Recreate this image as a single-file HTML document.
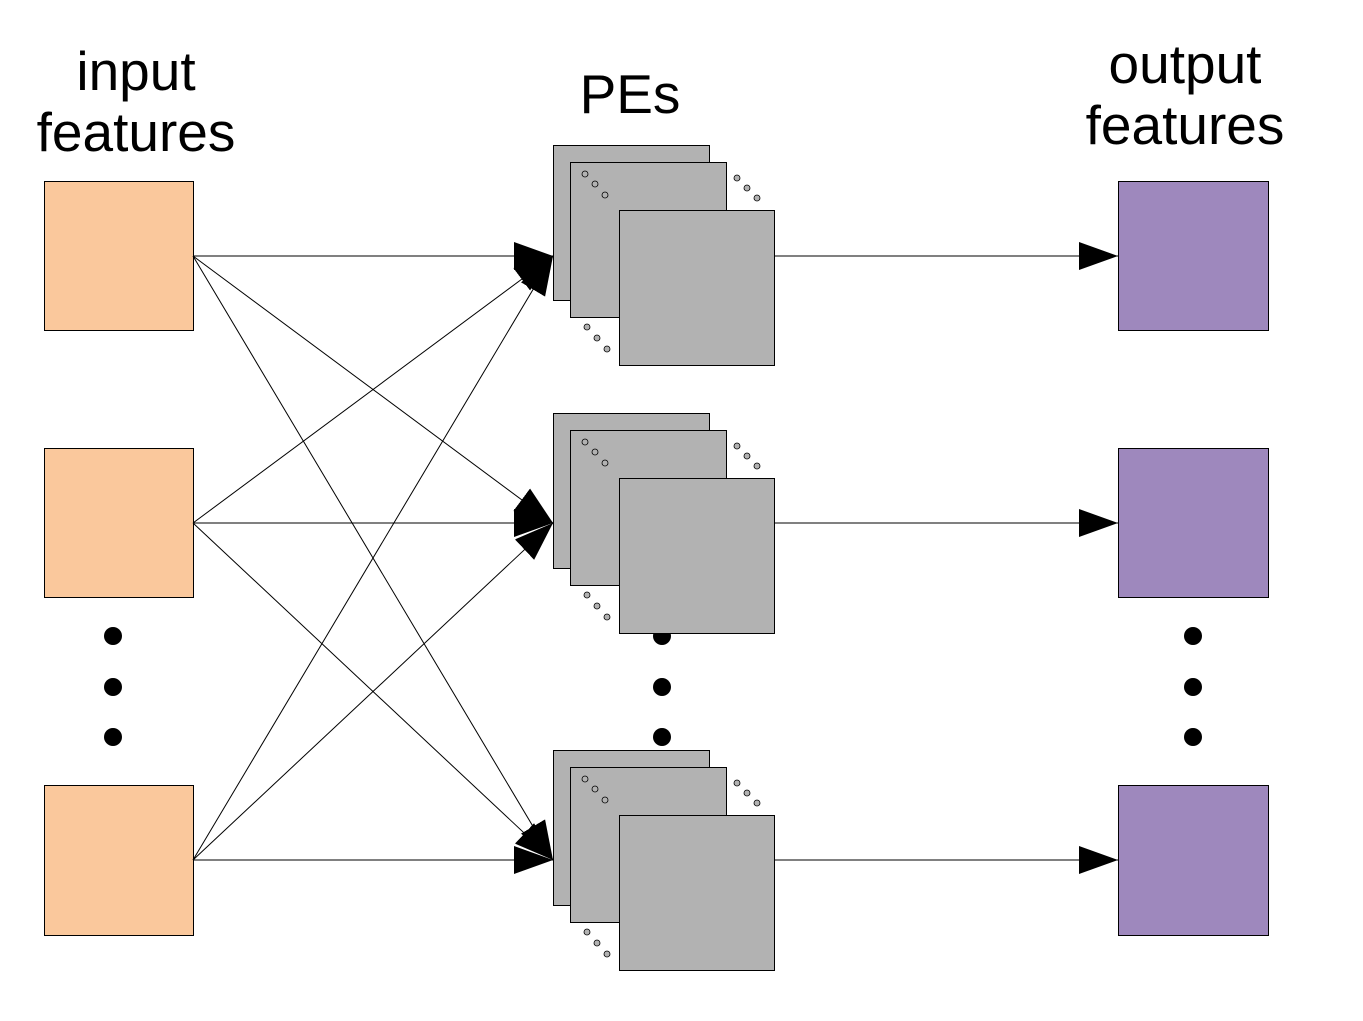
<!DOCTYPE html>
<html><head><meta charset="utf-8"><style>
html,body{margin:0;padding:0;background:#fff;}
svg{display:block;}
text{font-family:"Liberation Sans",sans-serif;font-size:55px;fill:#000;}
</style></head><body>
<svg width="1363" height="1021" viewBox="0 0 1363 1021" xmlns="http://www.w3.org/2000/svg">
<defs>
<marker id="ah" markerUnits="userSpaceOnUse" markerWidth="40" markerHeight="30" refX="39" refY="14" orient="auto">
<polygon points="0,0 39,14 0,28" fill="#000"/>
</marker>
<g id="pe">
<rect x="553.5" y="145.5" width="156" height="155" fill="#b2b2b2" stroke="#000" stroke-width="1"/>
<rect x="570.5" y="162.5" width="156" height="155" fill="#b2b2b2" stroke="#000" stroke-width="1"/>
<g fill="#b2b2b2" stroke="#000" stroke-width="0.8">
<circle cx="585" cy="174" r="3"/><circle cx="595" cy="184" r="3"/><circle cx="605" cy="195" r="3"/>
<circle cx="737" cy="178" r="3"/><circle cx="747" cy="188" r="3"/><circle cx="757" cy="198" r="3"/>
<circle cx="587" cy="327" r="3"/><circle cx="597" cy="338" r="3"/><circle cx="607" cy="349" r="3"/>
</g>
<rect x="619.5" y="210.5" width="155" height="155" fill="#b2b2b2" stroke="#000" stroke-width="1"/>
</g>
</defs>

<text x="136" y="90" text-anchor="middle">input</text>
<text x="136" y="151" text-anchor="middle">features</text>
<text x="630" y="113" text-anchor="middle">PEs</text>
<text x="1185" y="83" text-anchor="middle">output</text>
<text x="1185" y="144" text-anchor="middle">features</text>

<g fill="#fac89c" stroke="#000" stroke-width="1">
<rect x="44.5" y="181.5" width="149" height="149"/>
<rect x="44.5" y="448.5" width="149" height="149"/>
<rect x="44.5" y="785.5" width="149" height="150"/>
</g>
<g fill="#9e88bd" stroke="#000" stroke-width="1">
<rect x="1118.5" y="181.5" width="150" height="149"/>
<rect x="1118.5" y="448.5" width="150" height="149"/>
<rect x="1118.5" y="785.5" width="150" height="150"/>
</g>

<g fill="#000">
<circle cx="113" cy="636" r="9"/><circle cx="113" cy="687" r="9"/><circle cx="113" cy="737" r="9"/>
<circle cx="662" cy="636" r="9"/><circle cx="662" cy="687" r="9"/><circle cx="662" cy="737" r="9"/>
<circle cx="1193" cy="636" r="9"/><circle cx="1193" cy="687" r="9"/><circle cx="1193" cy="737" r="9"/>
</g>

<use href="#pe"/>
<use href="#pe" y="268"/>
<use href="#pe" y="605"/>

<g stroke="#000" stroke-width="1" marker-end="url(#ah)" fill="none">
<line x1="193" y1="256" x2="553" y2="256"/>
<line x1="193" y1="256" x2="553" y2="523"/>
<line x1="193" y1="256" x2="553" y2="860"/>
<line x1="193" y1="523" x2="553" y2="256"/>
<line x1="193" y1="523" x2="553" y2="523"/>
<line x1="193" y1="523" x2="553" y2="860"/>
<line x1="193" y1="860" x2="553" y2="256"/>
<line x1="193" y1="860" x2="553" y2="523"/>
<line x1="193" y1="860" x2="553" y2="860"/>
<line x1="774" y1="256" x2="1118" y2="256"/>
<line x1="774" y1="523" x2="1118" y2="523"/>
<line x1="774" y1="860" x2="1118" y2="860"/>
</g>
</svg>
</body></html>
